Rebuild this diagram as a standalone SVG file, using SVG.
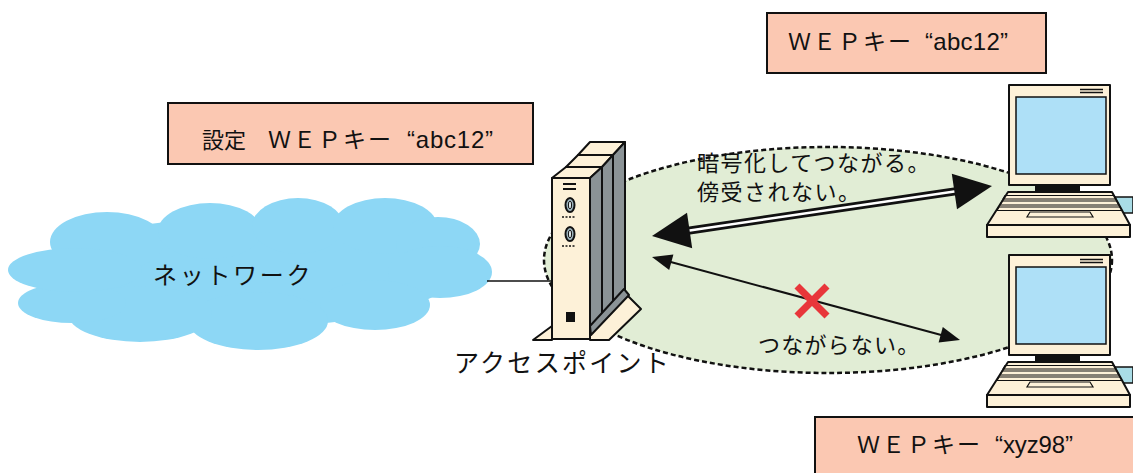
<svg xmlns="http://www.w3.org/2000/svg" width="1133" height="473" viewBox="0 0 1133 473">
  <style>
    .jp { font-family: "Noto Sans CJK JP", "Noto Sans", sans-serif; fill: #111; }
    .lat { font-family: "Liberation Sans", Arial, sans-serif; fill: #111; }
    .label { fill: #fbc8b2; stroke: #111; stroke-width: 2; }
    .beige { fill: #fdf1d8; stroke: #111; stroke-width: 2; stroke-linejoin: round; }
    .side { fill: #8b9396; stroke: #111; stroke-width: 2; stroke-linejoin: round; }
    .cloud { fill: #8dd7f5; }
  </style>
  <defs>
    <g id="pc">
      <polygon points="1110,197 1133,197 1133,213 1116,213" fill="#a9dce6" stroke="#111" stroke-width="1.5"/>
      <rect x="1009" y="85" width="101" height="100" class="beige"/>
      <rect x="1016" y="97" width="90" height="77" fill="#aee0f7" stroke="#111" stroke-width="1.5"/>
      <line x1="1080" y1="89.5" x2="1103" y2="89.5" stroke="#111" stroke-width="1.5"/>
      <line x1="1080" y1="92.5" x2="1103" y2="92.5" stroke="#111" stroke-width="1.5"/>
      <rect x="1035" y="185" width="45" height="7" fill="#111"/>
      <polygon points="1008,192 1112,192 1130,225 987,225" class="beige"/>
      <polygon points="1005,195.5 1114,195.5 1116,199 1003,199" fill="none" stroke="#111" stroke-width="1.2"/>
      <polygon points="1002,201 1117,201 1119,205 1000,205" fill="none" stroke="#111" stroke-width="1.2"/>
      <polygon points="999,207 1120,207 1122,210.5 997,210.5" fill="none" stroke="#111" stroke-width="1.2"/>
      <polygon points="1030,212 1090,212 1093,217 1027,217" fill="none" stroke="#111" stroke-width="1.2"/>
      <rect x="987" y="225" width="143" height="12" class="beige"/>
    </g>
  </defs>

  <!-- network cloud -->
  <g id="network">
    <g class="cloud">
      <ellipse cx="250" cy="272" rx="205" ry="55"/>
      <ellipse cx="107" cy="242" rx="57" ry="30"/>
      <ellipse cx="210" cy="231" rx="52" ry="28"/>
      <ellipse cx="298" cy="226" rx="46" ry="28"/>
      <ellipse cx="385" cy="226" rx="52" ry="28"/>
      <ellipse cx="438" cy="244" rx="42" ry="27"/>
      <ellipse cx="440" cy="272" rx="52" ry="26"/>
      <ellipse cx="375" cy="305" rx="55" ry="25"/>
      <ellipse cx="258" cy="321" rx="70" ry="29"/>
      <ellipse cx="140" cy="314" rx="72" ry="28"/>
      <ellipse cx="72" cy="303" rx="54" ry="20"/>
      <ellipse cx="75" cy="270" rx="67" ry="22"/>
    </g>
    <text x="153" y="284" class="jp" font-size="24" letter-spacing="2.7">ネットワーク</text>
  </g>

  <!-- wireless coverage area -->
  <g id="coverage">
    <ellipse cx="828" cy="260" rx="284" ry="113" fill="#e1edd5" stroke="#111" stroke-width="2.5" stroke-dasharray="5 3"/>
  </g>

  <!-- connectors -->
  <g id="connectors">
    <line x1="487" y1="281" x2="553" y2="281" stroke="#111" stroke-width="1.5"/>
    <!-- encrypted link: double line with two heads -->
    <line x1="688" y1="230.7" x2="956" y2="191.3" stroke="#111" stroke-width="8"/>
    <line x1="688" y1="230.7" x2="956" y2="191.3" stroke="#fff" stroke-width="2.5"/>
    <polygon points="652,236 692.2,248.3 687,212.7" fill="#111"/>
    <polygon points="992,186 957,209.3 951.8,173.7" fill="#111"/>
    <!-- failed link -->
    <line x1="668" y1="261.3" x2="944" y2="335.7" stroke="#111" stroke-width="2"/>
    <polygon points="652,257 669.2,269.9 673.4,254.5" fill="#111"/>
    <polygon points="960,340 938.6,342.5 942.8,327.1" fill="#111"/>
  </g>

  <!-- access point -->
  <g id="access-point">
    <polygon points="578,155 613,155 625,142 590,142" class="beige"/>
    <polygon points="613,155 625,142 625,292 613,304" class="side"/>
    <polygon points="566,167 602,167 613,155 578,155" class="beige"/>
    <polygon points="602,167 613,155 613,314 602,326" class="side"/>
    <polygon points="552,178 590,178 602,167 566,167" class="beige"/>
    <polygon points="590,178 602,167 602,330 590,339" class="side"/>
    <rect x="552" y="178" width="38" height="161" class="beige"/>
    <polygon points="552,326 533,340 552,340" class="beige"/>
    <polygon points="590,333 626,294 641,309 609,340 590,340" class="beige"/>
    <polygon points="590,326 624,289 629,295 591,335" class="side"/>
    <line x1="563" y1="184" x2="576" y2="184" stroke="#111" stroke-width="2"/>
    <line x1="563" y1="189" x2="576" y2="189" stroke="#111" stroke-width="2"/>
    <ellipse cx="570" cy="205" rx="4.5" ry="7" fill="#9fb6c0" stroke="#111" stroke-width="2"/>
    <ellipse cx="570" cy="205" rx="1.6" ry="4" fill="#dfe9ec" stroke="#111" stroke-width="1"/>
    <line x1="562" y1="217" x2="576" y2="217" stroke="#111" stroke-width="1.5" stroke-dasharray="2 1.5"/>
    <ellipse cx="570" cy="234" rx="4.5" ry="7" fill="#9fb6c0" stroke="#111" stroke-width="2"/>
    <ellipse cx="570" cy="234" rx="1.6" ry="4" fill="#dfe9ec" stroke="#111" stroke-width="1"/>
    <line x1="562" y1="246" x2="576" y2="246" stroke="#111" stroke-width="1.5" stroke-dasharray="2 1.5"/>
    <rect x="566" y="312" width="9" height="10" fill="#111"/>
    <text x="454" y="372" class="jp" font-size="25" letter-spacing="2.3">アクセスポイント</text>
  </g>

  <!-- client PCs -->
  <g id="pc-1">
    <use href="#pc"/>
  </g>
  <g id="pc-2">
    <use href="#pc" transform="translate(0,170)"/>
  </g>

  <!-- link captions -->
  <g id="caption-ok">
    <text x="697" y="171" class="jp" font-size="22" letter-spacing="1.5">暗号化してつながる。</text>
    <text x="697" y="200" class="jp" font-size="22" letter-spacing="1.5">傍受されない。</text>
  </g>
  <g id="caption-ng">
    <text x="758" y="353" class="jp" font-size="22" letter-spacing="1.2">つながらない。</text>
    <line x1="797" y1="286" x2="827" y2="316" stroke="#e8363a" stroke-width="7"/>
    <line x1="797" y1="316" x2="827" y2="286" stroke="#e8363a" stroke-width="7"/>
  </g>

  <!-- key labels -->
  <g id="key-ap">
    <rect x="168" y="103" width="365" height="61" class="label"/>
    <text y="148" font-size="23">
      <tspan x="202" class="jp" font-size="22">設定</tspan>
      <tspan x="268" class="jp" letter-spacing="2">ＷＥＰキー</tspan>
      <tspan x="407" class="lat" font-size="24" textLength="86">“abc12”</tspan>
    </text>
  </g>
  <g id="key-pc1">
    <rect x="767" y="13" width="279" height="60" class="label"/>
    <text y="50" font-size="23">
      <tspan x="788" class="jp" letter-spacing="2">ＷＥＰキー</tspan>
      <tspan x="925" class="lat" font-size="24" textLength="83">“abc12”</tspan>
    </text>
  </g>
  <g id="key-pc2">
    <rect x="815" y="417" width="330" height="70" class="label"/>
    <text y="453" font-size="23">
      <tspan x="857" class="jp" letter-spacing="2">ＷＥＰキー</tspan>
      <tspan x="995" class="lat" font-size="24" textLength="78">“xyz98”</tspan>
    </text>
  </g>
</svg>
